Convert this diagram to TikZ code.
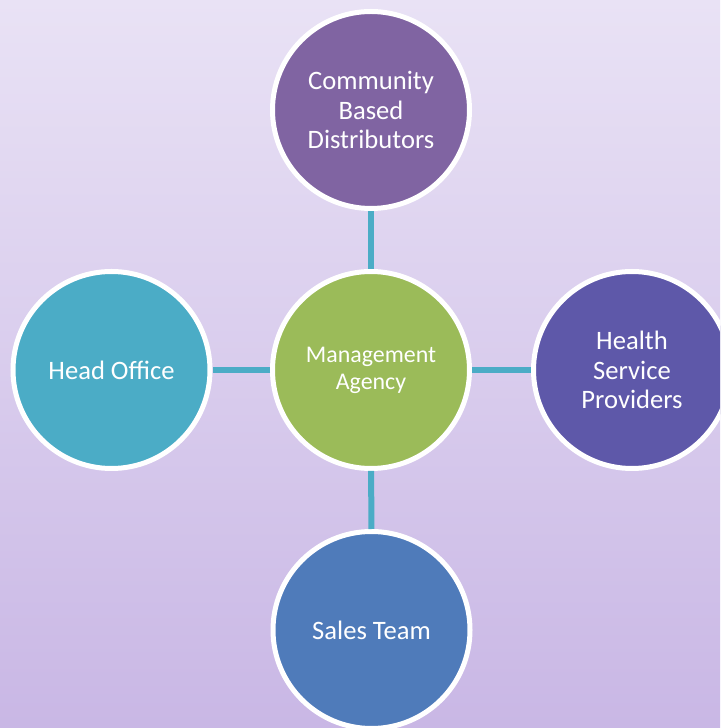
\documentclass[tikz,border=0pt]{standalone}
\usepackage{fontspec}
\setmainfont{Carlito}
\definecolor{bgtop}{HTML}{E9E2F5}
\definecolor{bgbot}{HTML}{C9B7E5}
\definecolor{cpurple}{HTML}{8064A2}
\definecolor{cgreen}{HTML}{9BBB59}
\definecolor{cindigo}{HTML}{5E58A9}
\definecolor{cteal}{HTML}{4BACC6}
\definecolor{cblue}{HTML}{4F7BBA}
\begin{document}
\begin{tikzpicture}[x=1pt,y=1pt,
  bubble/.style={circle,draw=white,line width=5pt,minimum size=197pt,inner sep=0pt,
    text=white,align=center,font=\fontsize{26.6}{29.5}\selectfont},
  link/.style={draw=cteal,line width=6pt}]
\useasboundingbox (0,0) rectangle (720,728);
\clip (0,0) rectangle (720,728);
\shade[top color=bgtop,bottom color=bgbot] (0,0) rectangle (720,728);
\node[bubble,fill=cgreen,font=\fontsize{23.9}{27}\selectfont] (mgmt) at (371,358) {Management\\Agency};
\node[bubble,fill=cpurple] (cbd) at (371,618) {Community\\Based\\Distributors};
\node[bubble,fill=cteal] (head) at (111.5,358) {Head Office};
\node[bubble,fill=cindigo] (hsp) at (632,358) {Health\\Service\\Providers};
\node[bubble,fill=cblue] (sales) at (371.5,98) {Sales Team};
\path[link] (mgmt) -- (cbd);
\path[link] (mgmt) -- (head);
\path[link] (mgmt) -- (hsp);
\path[link] (mgmt) -- (sales);
\end{tikzpicture}
\end{document}
